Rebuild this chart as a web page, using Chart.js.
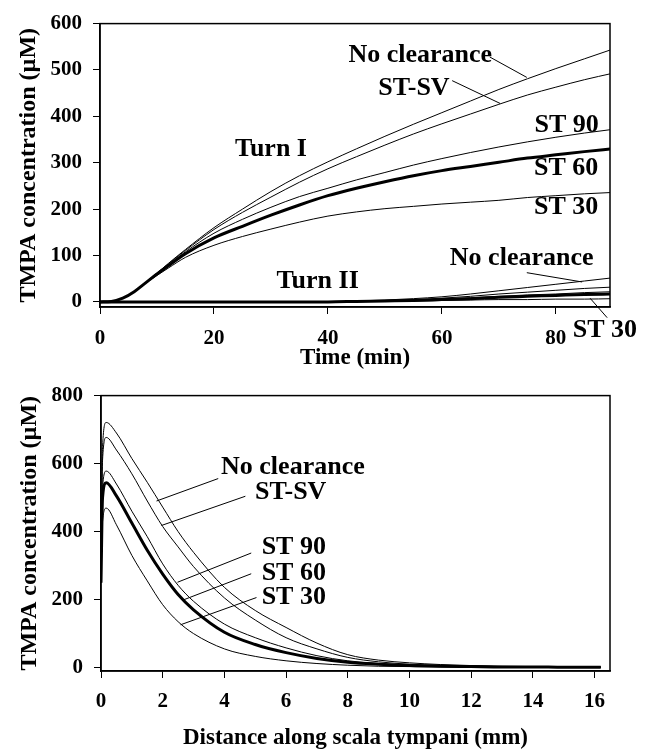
<!DOCTYPE html>
<html>
<head>
<meta charset="utf-8">
<script src="https://cdn.jsdelivr.net/npm/chart.js@4.4.0/dist/chart.umd.min.js"></script>
<style>
  body { margin: 0; background: #fff; }
  #timeChart { position: absolute; left: 0; top: 0; }
  #distChart { position: absolute; left: 0; top: 372px; }
</style>
</head>
<body>
<canvas id="timeChart" width="650" height="372"></canvas>
<canvas id="distChart" width="650" height="378"></canvas>
<script>
// ---- top panel: concentration vs time ----
var timeMin = [0, 2, 4, 6, 8, 10, 12, 15, 20, 25, 30, 35, 40, 45, 50, 55, 60, 65, 70, 75, 80, 85, 90];

// Turn I
var t1NoClear = [0, 1, 8, 22, 42, 62, 83, 113, 160, 200, 238, 272, 302, 330, 357, 383, 408, 433, 458, 481, 503, 524, 545];
var t1StSv    = [0, 1, 8, 22, 42, 62, 82, 111, 156, 193, 226, 258, 287, 313, 338, 362, 384, 405, 426, 446, 463, 479, 493];
var t1St90    = [0, 1, 8, 22, 42, 61, 80, 108, 148, 178, 204, 227, 245, 263, 279, 295, 309, 322, 334, 345, 355, 364, 372];
var t1St60    = [0, 1, 8, 22, 41, 60, 78, 104, 138, 163, 187, 209, 229, 245, 259, 272, 283, 292, 301, 310, 317, 324, 330];
var t1St30    = [0, 1, 8, 21, 40, 57, 73, 96, 122, 141, 157, 172, 185, 194, 201, 206, 211, 215, 219, 225, 229, 233, 236];

// Turn II
var t2NoClear = [0, 0, 0, 0, 0, 0, 0, 0, 0, 0, 0, 0, 0, 2, 4, 7, 11, 17, 24, 31, 38, 45, 52];
var t2StSv    = [0, 0, 0, 0, 0, 0, 0, 0, 0, 0, 0, 0, 0, 1, 3, 5, 8, 12, 17, 21, 25, 29, 32];
var t2St90    = [0, 0, 0, 0, 0, 0, 0, 0, 0, 0, 0, 0, 0, 1, 2, 4, 6, 9, 12, 15, 17, 20, 22];
var t2St60    = [0, 0, 0, 0, 0, 0, 0, 0, 0, 0, 0, 0, 0, 1, 2, 3, 5, 7, 10, 12, 14, 16, 17];
var t2St30    = [0, 0, 0, 0, 0, 0, 0, 0, 0, 0, 0, 0, 0, 1, 1, 2, 3, 4, 5, 5, 6, 6, 7];

var timeTicks = [0, 20, 40, 60, 80];
var topYTicks = [0, 100, 200, 300, 400, 500, 600];

// ---- bottom panel: concentration vs distance ----
var distMm = [0, 0.05, 0.17, 0.5, 1, 1.5, 2, 2.5, 3, 4, 5, 6, 7, 8, 9, 10, 11, 12, 13, 14, 15, 16.2];
var dNoClear = [250, 650, 721, 690, 615, 545, 472, 400, 339, 236, 168, 118, 72, 38, 22, 14, 9, 6, 4, 3, 2, 2];
var dStSv    = [250, 610, 677, 640, 570, 490, 415, 355, 297, 205, 140, 88, 55, 30, 17, 10, 7, 5, 3, 2, 2, 1];
var dSt90    = [250, 530, 578, 540, 460, 385, 305, 242, 195, 128, 88, 58, 35, 20, 12, 7, 5, 3, 2, 2, 1, 1];
var dSt60    = [250, 500, 544, 505, 425, 345, 275, 215, 170, 104, 68, 44, 27, 16, 10, 6, 4, 3, 2, 2, 1, 1];
var dSt30    = [250, 430, 469, 420, 330, 255, 185, 135, 100, 55, 33, 20, 12, 7, 4, 3, 2, 1, 1, 1, 1, 1];

var distTicks = [0, 2, 4, 6, 8, 10, 12, 14, 16];
var bottomYTicks = [0, 200, 400, 600, 800];

var serif = '"Liberation Serif", "Times New Roman", serif';
Chart.defaults.font.family = serif;
Chart.defaults.color = '#000';

function series(xs, ys, width) {
  return {
    data: xs.map(function (x, i) { return { x: x, y: ys[i] }; }),
    borderColor: '#000',
    borderWidth: width,
    pointRadius: 0,
    cubicInterpolationMode: 'monotone',
    fill: false
  };
}

function fixedTicks(list) {
  return function (s) { s.ticks = list.map(function (v) { return { value: v }; }); };
}

// text labels, leader lines and the plot frame
var notesPlugin = {
  id: 'notes',
  afterDatasetsDraw: function (chart, args, opts) {
    var ctx = chart.ctx, xs = chart.scales.x, ys = chart.scales.y;
    ctx.save();
    ctx.strokeStyle = '#000';
    ctx.lineWidth = 1;
    opts.leaders.forEach(function (l) {
      ctx.beginPath();
      ctx.moveTo(xs.getPixelForValue(l[0]), ys.getPixelForValue(l[1]));
      ctx.lineTo(xs.getPixelForValue(l[2]), ys.getPixelForValue(l[3]));
      ctx.stroke();
    });
    ctx.fillStyle = '#000';
    ctx.font = 'bold 26px ' + serif;
    ctx.textAlign = 'center';
    ctx.textBaseline = 'middle';
    opts.labels.forEach(function (t) {
      ctx.fillText(t[0], xs.getPixelForValue(t[1]), ys.getPixelForValue(t[2]));
    });
    var a = chart.chartArea;
    ctx.lineWidth = 1.5;
    ctx.strokeRect(a.left, a.top, a.right - a.left, a.bottom - a.top);
    ctx.restore();
  }
};

function axisX(min, max, ticks, title, height, tickPad, titlePad) {
  return {
    type: 'linear', min: min, max: max,
    afterBuildTicks: fixedTicks(ticks),
    afterFit: function (s) { s.height = height; },
    grid: { drawOnChartArea: false, drawTicks: true, tickLength: 7, color: '#000', lineWidth: 1 },
    border: { display: true, color: '#000', width: 1.5 },
    ticks: { font: { size: 21, weight: 'bold' }, padding: tickPad, maxRotation: 0 },
    title: { display: true, text: title, font: { size: 23, weight: 'bold', lineHeight: 1 },
             padding: { top: 0, bottom: titlePad } }
  };
}

function axisY(min, max, ticks) {
  return {
    min: min, max: max,
    afterBuildTicks: fixedTicks(ticks),
    afterFit: function (s) { s.width = 100; },
    grid: { drawOnChartArea: false, drawTicks: true, tickLength: 7, color: '#000', lineWidth: 1 },
    border: { display: true, color: '#000', width: 1.5 },
    ticks: { font: { size: 21, weight: 'bold' }, padding: 11 },
    title: { display: true, text: 'TMPA concentration (\u00b5M)',
             font: { size: 24, weight: 'bold', lineHeight: 1 }, padding: { top: 17, bottom: 0 } }
  };
}

new Chart(document.getElementById('timeChart'), {
  type: 'line',
  data: {
    datasets: [
      series(timeMin, t1NoClear, 1), series(timeMin, t1StSv, 1), series(timeMin, t1St90, 1),
      series(timeMin, t1St60, 3), series(timeMin, t1St30, 1),
      series(timeMin, t2NoClear, 1), series(timeMin, t2StSv, 1), series(timeMin, t2St90, 1),
      series(timeMin, t2St60, 3), series(timeMin, t2St30, 1)
    ]
  },
  options: {
    responsive: false,
    animation: false,
    layout: { padding: { left: 0, top: 15, right: 40, bottom: 0 } },
    plugins: {
      legend: { display: false },
      tooltip: { enabled: false },
      notes: {
        labels: [
          ['No clearance', 56.2, 531], ['ST-SV', 55.1, 461], ['ST 90', 81.9, 381],
          ['ST 60', 81.8, 289], ['ST 30', 81.8, 203], ['Turn I', 30, 329], ['Turn II', 38.2, 45],
          ['No clearance', 74, 94], ['ST 30', 88.6, -61]
        ],
        leaders: [
          [68.4, 528, 74.9, 484], [61.8, 477, 70.2, 428],
          [74.9, 63, 84.6, 43], [86, 8, 89, -34]
        ]
      }
    },
    scales: {
      x: axisX(0, 89.5, timeTicks, 'Time (min)', 65, 12, 2),
      y: axisY(-11, 600, topYTicks)
    }
  },
  plugins: [notesPlugin]
});

new Chart(document.getElementById('distChart'), {
  type: 'line',
  data: {
    datasets: [
      series(distMm, dNoClear, 1), series(distMm, dStSv, 1), series(distMm, dSt90, 1),
      series(distMm, dSt60, 3), series(distMm, dSt30, 1)
    ]
  },
  options: {
    responsive: false,
    animation: false,
    layout: { padding: { left: 1, top: 7, right: 40, bottom: 0 } },
    plugins: {
      legend: { display: false },
      tooltip: { enabled: false },
      notes: {
        labels: [
          ['No clearance', 6.22, 590], ['ST-SV', 6.15, 515], ['ST 90', 6.25, 354],
          ['ST 60', 6.25, 276], ['ST 30', 6.25, 206]
        ],
        leaders: [
          [3.8, 556, 1.8, 490], [4.68, 504, 1.96, 418], [4.87, 337, 2.48, 251],
          [4.87, 276, 2.64, 198], [5.04, 206, 2.58, 126]
        ]
      }
    },
    scales: {
      x: axisX(0, 16.5, distTicks, 'Distance along scala tympani (mm)', 79, 11, 0),
      y: axisY(-10, 800, bottomYTicks)
    }
  },
  plugins: [notesPlugin]
});
</script>
</body>
</html>
